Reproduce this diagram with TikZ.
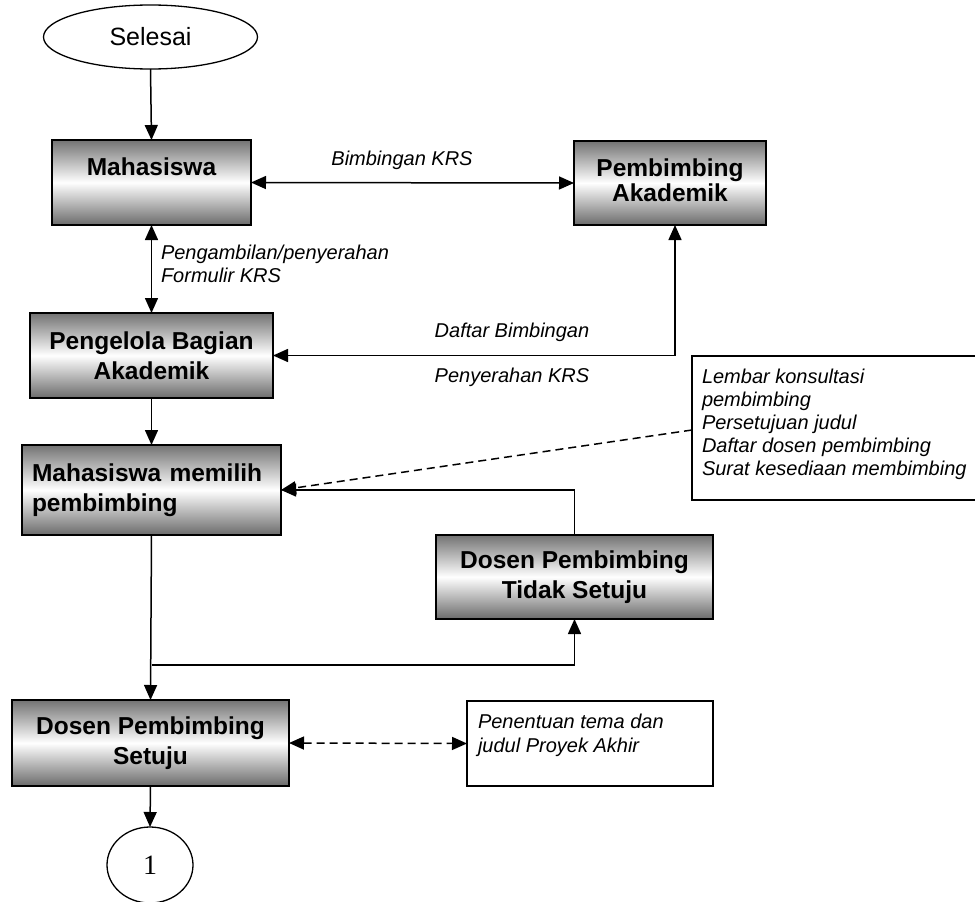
\documentclass[tikz,border=0pt]{standalone}
\usepackage{fontspec}
\setmainfont{Liberation Sans}
\newfontfamily\serifnum{Liberation Serif}
\usetikzlibrary{shapes.geometric,arrows.meta,calc}
\begin{document}
\begin{tikzpicture}[x=1pt,y=-1pt,
  every node/.style={inner sep=0pt,outer sep=0pt},
  procbox/.style={draw=black,line width=1.6pt,rectangle,
    top color=black!55,bottom color=black!58,middle color=white,
    font=\bfseries\fontsize{24.5}{30}\selectfont,align=center},
  docbox/.style={draw=black,line width=1.5pt,rectangle,fill=white},
  lbl/.style={font=\itshape\fontsize{20}{23}\selectfont,align=left},
  tip/.style={Triangle[length=15pt,width=13pt]},
  conn/.style={line width=1.5pt,-{Triangle[length=15pt,width=13pt]}},
  biconn/.style={line width=1.5pt,{Triangle[length=15pt,width=13pt]}-{Triangle[length=15pt,width=13pt]}},
  dashline/.style={dash pattern=on 8pt off 5pt}]
\useasboundingbox (0,0) rectangle (975,902);
\clip (0,0) rectangle (975,902);

% terminators
\node[draw,ellipse,line width=1.3pt,minimum width=214pt,minimum height=64pt,
  font=\fontsize{25}{28}\selectfont] (sel) at (150.5,37) {Selesai};
\node[draw,ellipse,line width=1.3pt,minimum width=86pt,minimum height=76pt,
  font=\serifnum\fontsize{28}{30}\selectfont] (one) at (150,865) {1};

% process boxes
\node[procbox,minimum width=199pt,minimum height=85pt] (mhs) at (151.5,182.5) {};
\node[font=\bfseries\fontsize{24.5}{30}\selectfont] (mhstxt) at (151.5,167) {Mahasiswa};
\node[procbox,minimum width=192pt,minimum height=84pt] (pa) at (670,183)
  {\raisebox{6pt}{\shortstack{Pembimbing\\[-1pt]Akademik}}};
\node[procbox,minimum width=243pt,minimum height=85pt] (pba) at (151.5,355.5)
  {Pengelola Bagian\\Akademik};
\node[procbox,minimum width=259pt,minimum height=90pt,align=left,
  text width=239pt,inner xsep=10pt] (mmp) at (151.5,490)
  {Mahasiswa memilih\\pembimbing};
\node[procbox,minimum width=277pt,minimum height=84pt] (dts) at (574.5,577)
  {Dosen Pembimbing\\Tidak Setuju};
\node[procbox,minimum width=277pt,minimum height=86pt] (dps) at (150.5,743)
  {Dosen Pembimbing\\Setuju};

% document boxes
\node[docbox,minimum width=298pt,minimum height=144pt] (doc) at (841,428) {};
\node[lbl,anchor=west] (doctxt) at (702,424)
  {Lembar konsultasi\\pembimbing\\Persetujuan judul\\Daftar dosen pembimbing\\Surat kesediaan membimbing};
\node[docbox,minimum width=246pt,minimum height=85pt] (pen) at (590,743.5) {};
\node[lbl,anchor=west,font=\itshape\fontsize{20}{24}\selectfont] (pentxt) at (478,735)
  {Penentuan tema dan\\judul Proyek Akhir};

% connectors
\draw[conn] (sel.south) -- (mhs.north);
\draw[biconn] (mhs.east) -- (pa.west);
\node[lbl] (l1) at (402,160) {Bimbingan KRS};
\draw[biconn] (mhs.south) -- (pba.north);
\node[lbl,anchor=west] (l2) at (161,264) {Pengambilan/penyerahan\\Formulir KRS};
\draw[biconn] ($(pa.south)+(5,0)$) |- (pba.east);
\node[lbl] (l3) at (512,332) {Daftar Bimbingan};
\node[lbl] (l4) at (512,377) {Penyerahan KRS};
\draw[conn] (pba.south) -- (mmp.north);
\draw[conn,dashline] ($(doc.west)+(0,2)$) -- (mmp.east);
\draw[conn] (dts.north) |- (mmp.east);
\draw[conn] (mmp.south) -- (dps.north);
\coordinate (split) at (151.5,665);
\draw[conn] (split) -| (dts.south);
\draw[biconn,dashline] (dps.east) -- (pen.west);
\draw[conn] (dps.south) -- (one.north);
\end{tikzpicture}
\end{document}
